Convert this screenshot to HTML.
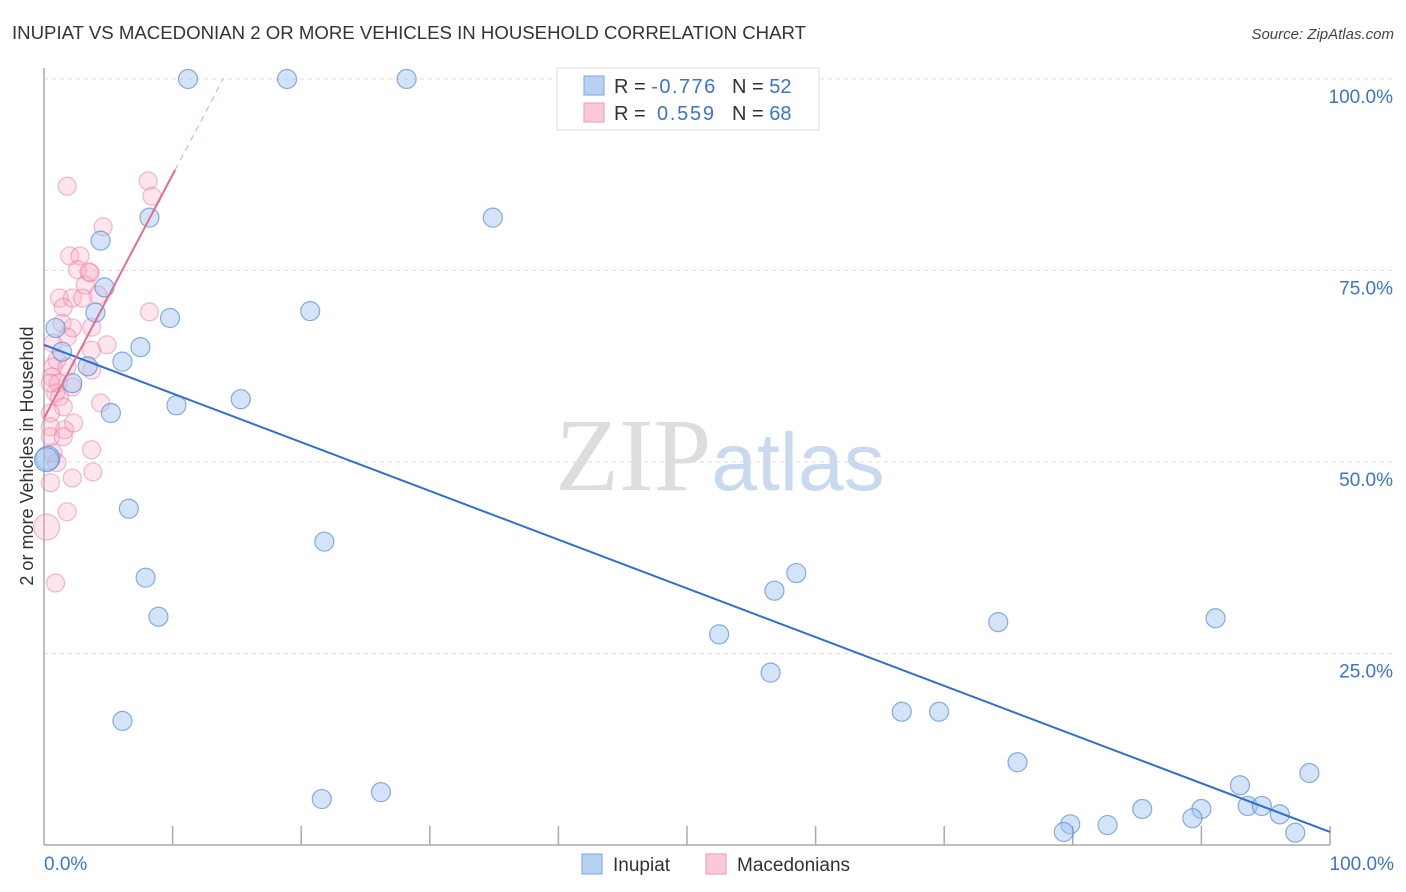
<!DOCTYPE html>
<html><head><meta charset="utf-8"><style>
body{margin:0;background:#fff;font-family:"Liberation Sans",sans-serif;}
svg{display:block}
</style></head><body>
<svg id="chart" width="1406" height="892" xmlns="http://www.w3.org/2000/svg">
<text x="12" y="39" font-size="18" fill="#333" textLength="794" lengthAdjust="spacingAndGlyphs" font-family="Liberation Sans, sans-serif">INUPIAT VS MACEDONIAN 2 OR MORE VEHICLES IN HOUSEHOLD CORRELATION CHART</text>
<text x="1394" y="39" font-size="15" fill="#444" text-anchor="end" font-style="italic">Source: ZipAtlas.com</text>
<text x="720" y="490" font-size="104" text-anchor="middle" fill="#ddd" font-family="Liberation Serif, serif">ZIP<tspan fill="#c9d9ef" font-family="Liberation Sans, sans-serif" font-size="82">atlas</tspan></text>
<text transform="translate(33,456) rotate(-90)" font-size="18" fill="#333" text-anchor="middle">2 or more Vehicles in Household</text>
<g id="grid"></g>
<g id="axes"></g>
<g id="points"></g>
<g id="trends"></g>
<g>
<rect x="557" y="68" width="262" height="62" fill="#fff" stroke="#ddd"/>
<rect x="584" y="76" width="20" height="19" fill="#b8d1f3" stroke="#7ea6e0"/>
<rect x="584" y="103" width="20" height="19" fill="#fbc8d8" stroke="#ef9ab4"/>
<text x="614" y="93" font-size="20" fill="#333">R = <tspan fill="#3a74d1" textLength="64">-0.776</tspan><tspan x="732">N = </tspan><tspan fill="#3a74d1">52</tspan></text>
<text x="614" y="120" font-size="20" fill="#333">R = <tspan fill="#3a74d1" x="657" textLength="57">0.559</tspan><tspan x="732">N = </tspan><tspan fill="#3a74d1">68</tspan></text>
</g>
<g>
<rect x="582" y="854" width="20" height="20" fill="#b8d1f3" stroke="#7ea6e0"/>
<text x="613" y="871" font-size="19" fill="#333">Inupiat</text>
<rect x="706" y="854" width="20" height="20" fill="#fbc8d8" stroke="#ef9ab4"/>
<text x="737" y="871" font-size="19" fill="#333">Macedonians</text>
</g>
</svg>
<script>
const blueX=[11.2,18.9,28.2,8.2,34.9,4.4,4.7,4.0,9.8,20.7,0.9,1.4,7.5,6.1,3.4,2.2,10.3,15.3,5.2,6.6,21.8,7.9,58.5,56.8,8.9,52.5,74.2,91.1,56.5,6.1,66.7,69.6,75.7,21.6,26.2,93.0,98.4,85.4,90.0,93.6,94.7,96.1,89.3,82.7,79.8,79.3,97.3,0.3,0.2];
const blueY=[100,100,100,81.9,81.9,78.9,72.8,69.5,68.8,69.7,67.5,64.4,65.0,63.1,62.5,60.3,57.4,58.2,56.4,43.9,39.6,34.9,35.5,33.2,29.8,27.5,29.1,29.6,22.5,16.2,17.4,17.4,10.8,6.0,6.9,7.8,9.4,4.7,4.7,5.1,5.1,4.0,3.5,2.6,2.7,1.7,1.6,50.5,50.3];
const pinkX=[1.8,8.1,8.4,4.6,2.0,2.8,2.6,3.6,3.2,4.2,1.2,2.2,3.0,1.5,8.2,1.4,2.2,3.7,1.8,4.9,0.7,3.7,1.0,0.7,1.8,3.7,0.6,1.1,2.2,0.9,1.2,4.4,1.5,0.5,2.3,0.5,1.6,0.5,1.5,3.7,0.7,1.0,3.8,2.2,0.5,1.8,0.2,0.9,3.5,0.5];
const pinkY=[86.0,86.7,84.7,80.7,76.9,76.9,75.1,74.7,73.1,71.8,71.4,71.4,71.4,70.2,69.6,68.1,67.5,67.6,66.3,65.3,65.5,64.6,63.3,62.4,62.4,62.0,61.1,60.3,59.8,59.0,58.5,57.7,57.2,56.4,55.1,54.6,54.2,53.3,53.3,51.6,51.2,49.9,48.7,47.9,47.3,43.5,41.5,34.2,74.8,60.3];
const blueTrend=[65.3,1.7];
const pinkTrend=[55.7,3.18];
const yTicks=[25,50,75,100];
const yTickLabels=["25.0%","50.0%","75.0%","100.0%"];
const NS='http://www.w3.org/2000/svg';
const X0=44,X1=1330,Y0=845,Y1=79;
const sx=v=>X0+(X1-X0)*v/100, sy=v=>Y0-(Y0-Y1)*v/100;
function mk(tag,attrs,parent){const e=document.createElementNS(NS,tag);for(const k in attrs)e.setAttribute(k,attrs[k]);parent.appendChild(e);return e;}
const grid=document.getElementById('grid'),axes=document.getElementById('axes'),pts=document.getElementById('points'),tr=document.getElementById('trends');
yTicks.forEach((t,i)=>{
 const l=mk('line',{x1:X0,x2:1394,y1:sy(t),y2:sy(t),stroke:'#ddd','stroke-dasharray':'4,4'},grid);
 
 
 const tx=mk('text',{x:1393,y:sy(t)+24,'font-size':19,fill:'#3a74d1','text-anchor':'end'},axes);
 tx.textContent=yTickLabels[i];
 
 
});
mk('line',{x1:X0,x2:X0,y1:68,y2:Y0,stroke:'#aaa','stroke-width':1.5},axes);
mk('line',{x1:X0,x2:X1,y1:Y0,y2:Y0,stroke:'#aaa','stroke-width':1.5},axes);
for(let i=1;i<=10;i++){const t=mk('line',{x1:sx(i*10),x2:sx(i*10),y1:826,y2:Y0,stroke:'#aaa','stroke-width':1.5},axes);
 
 }
const xl=mk('text',{x:44,y:870,'font-size':19,fill:'#3a74d1'},axes);xl.textContent='0.0%';


const xr=mk('text',{x:1394,y:870,'font-size':19,fill:'#3a74d1','text-anchor':'end'},axes);xr.textContent='100.0%';


pinkX.forEach((x,i)=>{const c=mk('circle',{cx:sx(x),cy:sy(pinkY[i]),r:(i==46?13:9),fill:'rgba(248,170,195,0.3)',stroke:'rgba(236,120,155,0.5)','stroke-width':1.2},pts);
 
 });
blueX.forEach((x,i)=>{const c=mk('circle',{cx:sx(x),cy:sy(blueY[i]),r:(i>=47?12:9.5),fill:'rgba(160,195,240,0.45)',stroke:'rgba(90,140,215,0.7)','stroke-width':1.2},pts);
 
 });
const bl=mk('line',{x1:sx(0),y1:sy(blueTrend[0]),x2:sx(100),y2:sy(blueTrend[1])},tr);
bl.setAttribute('stroke','#2f6fd6');bl.setAttribute('stroke-width','2');


const pEnd=10.2, pDash=(100-pinkTrend[0])/pinkTrend[1];
const pl=mk('line',{x1:sx(0),y1:sy(pinkTrend[0]),x2:sx(pEnd),y2:sy(pinkTrend[0]+pinkTrend[1]*pEnd),stroke:'#e86a90','stroke-width':2},tr);


const pd=mk('line',{x1:sx(pEnd),y1:sy(pinkTrend[0]+pinkTrend[1]*pEnd),x2:sx(pDash),y2:sy(100),stroke:'#f0a0b8','stroke-width':1,'stroke-dasharray':'6,5'},tr);


</script>
</body></html>
